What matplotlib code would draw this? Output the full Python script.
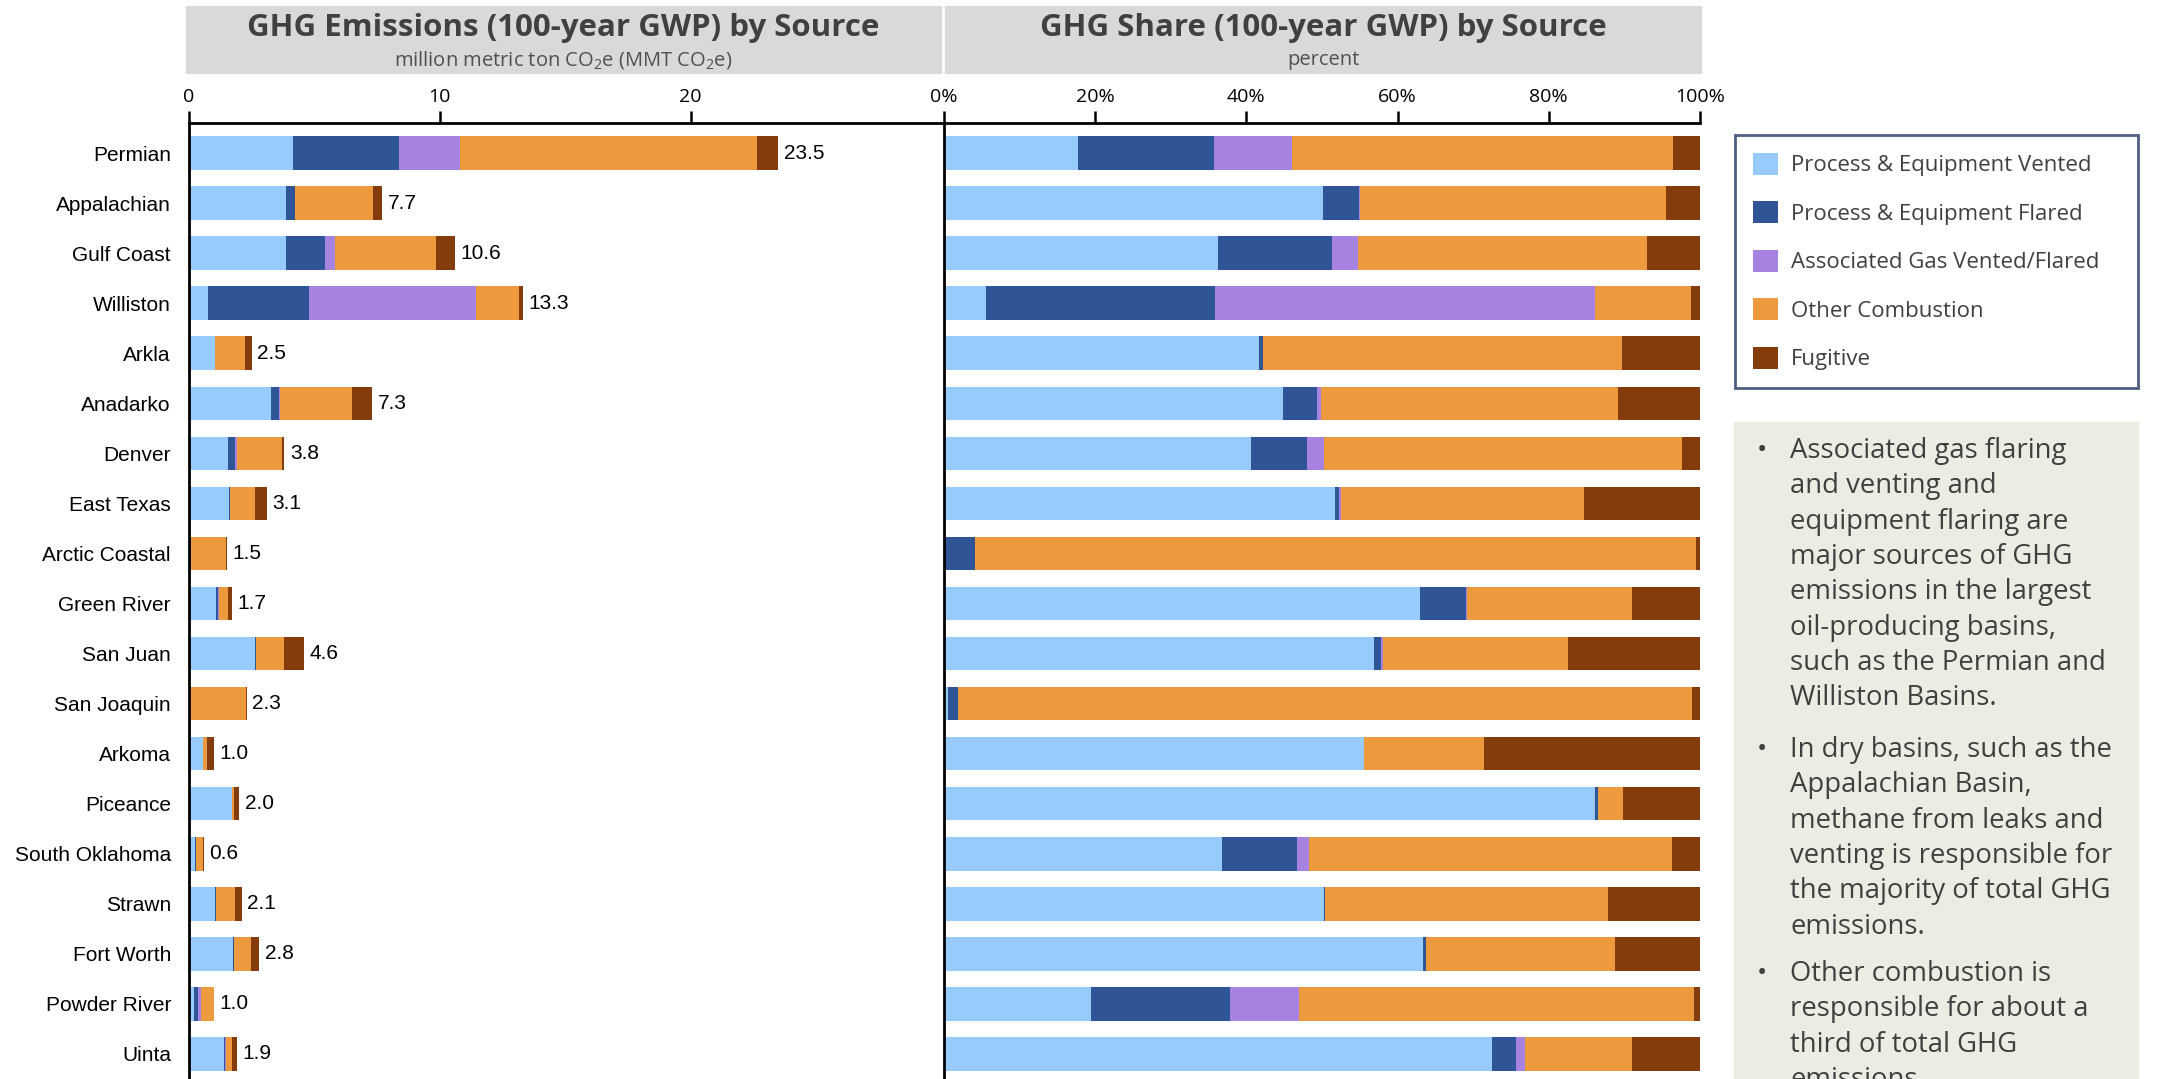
import matplotlib.pyplot as plt
from matplotlib.patches import Rectangle
import numpy as np

basins = ["Permian", "Appalachian", "Gulf Coast", "Williston", "Arkla", "Anadarko",
          "Denver", "East Texas", "Arctic Coastal", "Green River", "San Juan",
          "San Joaquin", "Arkoma", "Piceance", "South Oklahoma", "Strawn",
          "Fort Worth", "Powder River", "Uinta"]
totals = [23.5, 7.7, 10.6, 13.3, 2.5, 7.3, 3.8, 3.1, 1.5, 1.7, 4.6, 2.3, 1.0,
          2.0, 0.6, 2.1, 2.8, 1.0, 1.9]

# share of each source, percent
vented = [17.7, 50.1, 36.3, 5.6, 41.7, 44.8, 40.6, 51.7, 0.0, 62.9, 56.9, 0.5,
          55.5, 86.1, 36.8, 50.3, 63.3, 19.5, 72.5]
flared = [18.0, 4.8, 15.0, 30.3, 0.5, 4.5, 7.4, 0.6, 4.1, 6.1, 0.9, 1.3,
          0.1, 0.4, 9.9, 0.1, 0.4, 18.3, 3.1]
assoc = [10.3, 0.1, 3.5, 50.2, 0.0, 0.6, 2.3, 0.2, 0.0, 0.2, 0.3, 0.1,
         0.0, 0.0, 1.6, 0.0, 0.0, 9.1, 1.3]
combustion = [50.4, 40.5, 38.2, 12.7, 47.5, 39.3, 47.3, 32.1, 95.4, 21.8, 24.4, 97.1,
              15.8, 3.3, 48.0, 37.4, 25.1, 52.3, 14.1]
fugitive = [3.6, 4.5, 7.0, 1.2, 10.3, 10.8, 2.4, 15.4, 0.5, 9.0, 17.5, 1.0,
            28.6, 10.2, 3.7, 12.2, 11.2, 0.8, 9.0]

sources = ["Process & Equipment Vented", "Process & Equipment Flared",
           "Associated Gas Vented/Flared", "Other Combustion", "Fugitive"]
colors = ["#97CBFC", "#2F5597", "#A683E0", "#ED9A3E", "#843C0C"]

notes = [
    ["Associated gas flaring", "and venting and", "equipment flaring are",
     "major sources of GHG", "emissions in the largest", "oil-producing basins,",
     "such as the Permian and", "Williston Basins."],
    ["In dry basins, such as the", "Appalachian Basin,", "methane from leaks and",
     "venting is responsible for", "the majority of total GHG", "emissions."],
    ["Other combustion is", "responsible for about a", "third of total GHG",
     "emissions."],
]

W, H = 2161, 1079
plt.rcParams['mathtext.fontset'] = 'custom'
plt.rcParams['mathtext.rm'] = 'Open Sans'
fig = plt.figure(figsize=(W / 100, H / 100), dpi=100)


def fx(px):
    return px / W


def fy(py):
    return 1 - py / H


ax1 = fig.add_axes([fx(189), 0, fx(944) - fx(189), fy(123)])
ax2 = fig.add_axes([fx(944), 0, fx(1700) - fx(944), fy(123)])

share = np.array([vented, flared, assoc, combustion, fugitive])
emis = share / 100 * np.array(totals)
y = np.arange(len(basins))

handles = []
for ax, data in ((ax1, emis), (ax2, share)):
    left = np.zeros(len(basins))
    bars = []
    for vals, name, col in zip(data, sources, colors):
        b = ax.barh(y, vals, left=left, height=0.67, color=col, label=name)
        bars.append(b)
        left += vals
    if ax is ax1:
        ax.bar_label(bars[-1], labels=[f"{t:.1f}" for t in totals], padding=4,
                     fontsize=15, family="Liberation Sans")
        handles = bars

for ax in (ax1, ax2):
    ax.set_ylim(18.5, -0.6)
    ax.xaxis.tick_top()
    ax.tick_params(axis='x', length=9, width=1.8, pad=3, labelsize=14)
    ax.tick_params(axis='y', length=0)
    for s in ("right", "bottom"):
        ax.spines[s].set_visible(False)
    for s in ("top", "left"):
        ax.spines[s].set_linewidth(2)

ax1.set_xlim(0, 30.1)
ax1.set_xticks([0, 10, 20])
ax1.set_yticks(y, basins, fontsize=15, family="Liberation Sans")
ax1.tick_params(axis='y', pad=13)
for lab in ax1.get_xticklabels():
    lab.set_family("Open Sans")

ax2.set_xlim(0, 100)
ax2.set_xticks(range(0, 101, 20), [f"{v}%" for v in range(0, 101, 20)],
               family="Open Sans")
ax2.set_yticks([])

# header boxes
heads = [(186, 941, "GHG Emissions (100-year GWP) by Source",
          "million metric ton CO$_\\mathregular{2}$e (MMT CO$_\\mathregular{2}$e)"),
         (945, 1701, "GHG Share (100-year GWP) by Source", "percent")]
for x0, x1, title, sub in heads:
    fig.patches.append(Rectangle((fx(x0), fy(73)), fx(x1) - fx(x0), fy(5.5) - fy(73),
                                 transform=fig.transFigure, color="#D9D9D9", zorder=0))
    xc = fx((x0 + x1) / 2)
    fig.text(xc, fy(28), title, ha="center", va="center", fontsize=22.5,
             fontweight="bold", family="Open Sans", color="#404040")
    fig.text(xc, fy(60), sub, ha="center", va="center", fontsize=14.5,
             family="Open Sans", color="#505050")

leg = fig.legend(handles=handles, labels=sources, loc="upper left",
                 bbox_to_anchor=(fx(1735), fy(380), fx(2138) - fx(1735), fy(135) - fy(380)),
                 mode="expand", borderaxespad=0, fancybox=False,
                 handlelength=1.13, handleheight=1.13, handletextpad=0.6,
                 labelspacing=1.13, borderpad=0.8, prop={"family": "Open Sans", "size": 16})
leg.get_frame().set_edgecolor("#1F3864")
leg.get_frame().set_linewidth(2)
for t in leg.get_texts():
    t.set_color("#404040")

# notes panel
fig.patches.append(Rectangle((fx(1734), 0), fx(2138) - fx(1734), fy(422),
                             transform=fig.transFigure, color="#EAEEE2", zorder=0))
starts = [451, 750, 974]
for para, y0 in zip(notes, starts):
    fig.text(fx(1757), fy(y0), "•", ha="left", va="center", fontsize=19.8,
             family="Open Sans", color="#404040")
    for i, line in enumerate(para):
        fig.text(fx(1790), fy(y0 + i * 35.3), line, ha="left", va="center",
                 fontsize=19.8, family="Open Sans", color="#404040")

fig.savefig("out.png", dpi=100)
